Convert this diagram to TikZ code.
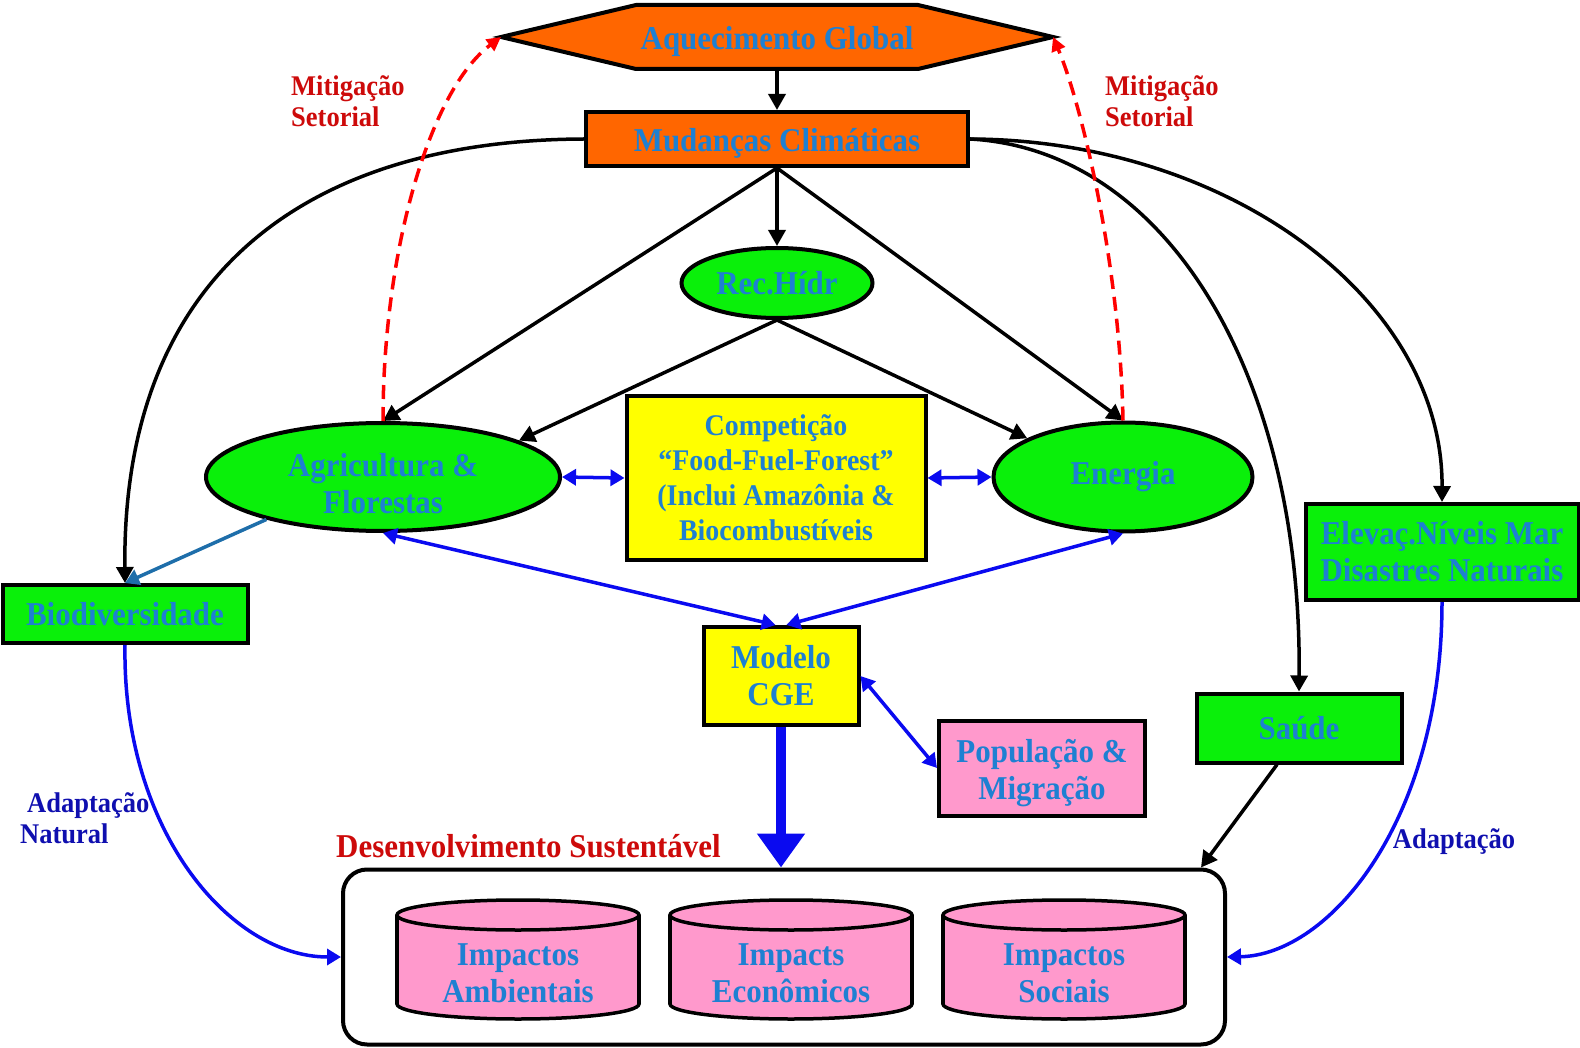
\documentclass[tikz,border=0pt]{standalone}
\usepackage{fontspec}
\setmainfont{Liberation Serif}
\newfontfamily\tallserif{Liberation Serif}[FakeStretch=0.93]
\usetikzlibrary{arrows.meta,shapes.geometric,calc}
\definecolor{txtblue}{RGB}{30,128,210}
\definecolor{orng}{RGB}{255,102,0}
\definecolor{grn}{RGB}{10,240,10}
\definecolor{yel}{RGB}{255,255,0}
\definecolor{pnk}{RGB}{255,153,204}
\definecolor{redlbl}{RGB}{205,10,10}
\definecolor{navylbl}{RGB}{15,15,175}
\definecolor{steel}{RGB}{30,110,170}
\definecolor{bluear}{RGB}{10,10,240}
\begin{document}
\begin{tikzpicture}[x=1pt,y=-1pt,
  lbl/.style={font=\tallserif\fontsize{33.3}{37}\selectfont\bfseries, text=txtblue, align=center},
  box/.style={lbl, draw=black, line width=4pt, inner sep=0pt},
  ell/.style={lbl, ellipse, draw=black, line width=4pt, fill=grn, inner sep=0pt},
  blk/.style={draw=black, line width=3.5pt, -{Triangle[width=17pt,length=16pt]}},
  blu/.style={draw=bluear, line width=3.5pt, {Triangle[width=16pt,length=14pt]}-{Triangle[width=16pt,length=14pt]}},
  bluone/.style={draw=bluear, line width=3.5pt, -{Triangle[width=16pt,length=14pt]}},
  mitig/.style={draw=red, line width=3.5pt, dash pattern=on 14pt off 8pt, -{Triangle[width=14pt,length=14pt]}},
  sidelbl/.style={font=\tallserif\fontsize{28.5}{31}\selectfont\bfseries, align=left, inner sep=0pt},
  cylfill/.style={fill=pnk},
  cylline/.style={draw=black, line width=3.5pt}
]
\useasboundingbox (0,0) rectangle (1580,1048);

% Hexagon
\draw[line width=4pt, fill=orng] (501,37) -- (636,5) -- (918,5) -- (1053,37) -- (918,69) -- (636,69) -- cycle;
\node[lbl] (aq) at (777,41) {Aquecimento Global};
\coordinate (aqB) at (777,69);
\coordinate (aqL) at (501,37);
\coordinate (aqR) at (1053,37);

% Nodes
\node[box, fill=orng, minimum width=382, minimum height=54] (mc) at (777,139) {};
\node[lbl] (mcT) at (777,143) {Mudanças Climáticas};
\node[ell, minimum width=191, minimum height=70] (rh) at (777,283) {Rec.Hídr};
\node[ell, minimum width=354, minimum height=108] (ag) at (383,477) {};
\node[lbl] (agT) at (383,484) {Agricultura \&\\Florestas};
\node[box, fill=yel, minimum width=299, minimum height=163, font=\tallserif\fontsize{30}{35}\selectfont\bfseries] (cp) at (776,478) {Competição\\“Food-Fuel-Forest”\\(Inclui Amazônia \&\\Biocombustíveis};
\node[ell, minimum width=259, minimum height=109] (en) at (1123,477) {Energia};
\node[box, fill=grn, minimum width=245, minimum height=58] (bio) at (125,614) {Biodiversidade};
\node[box, fill=grn, minimum width=273, minimum height=96] (el) at (1442,552) {Elevaç.Níveis Mar\\Disastres Naturais};
\node[box, fill=yel, minimum width=155, minimum height=98] (mo) at (781,676) {Modelo\\CGE};
\node[box, fill=pnk, minimum width=206, minimum height=95] (pop) at (1042,768) {};
\node[lbl] (popT) at (1042,773) {População \&\\Migração};
\node[box, fill=grn, minimum width=205, minimum height=69] (sa) at (1299,728) {Saúde};
\node[draw=black, line width=4pt, rounded corners=24pt, minimum width=882, minimum height=175, inner sep=0pt] (ds) at (784,957) {};

% Cylinders
\foreach \cx/\nm/\txt in {518/c1/{Impactos\\Ambientais}, 791/c2/{Impacts\\Econômicos}, 1064/c3/{Impactos\\Sociais}}{
  \filldraw[cylfill, cylline] (\cx,1004) ellipse [x radius=121, y radius=15];
  \fill[cylfill] (\cx-121,915) rectangle (\cx+121,1004);
  \draw[cylline] (\cx-121,915) -- (\cx-121,1004);
  \draw[cylline] (\cx+121,915) -- (\cx+121,1004);
  \filldraw[cylfill, cylline] (\cx,915) ellipse [x radius=121, y radius=15];
  \node[lbl] (\nm) at (\cx,973) {\txt};
}

% Labels
\node[sidelbl, text=redlbl, anchor=west] (mitL) at (291,101) {Mitigação\\Setorial};
\node[sidelbl, text=redlbl, anchor=west] (mitR) at (1105,101) {Mitigação\\Setorial};
\node[font=\tallserif\fontsize{33.3}{37}\selectfont\bfseries, text=redlbl, anchor=west, inner sep=0pt] (dsl) at (336,846) {Desenvolvimento Sustentável};
\node[sidelbl, text=navylbl, anchor=west] (adL) at (20,818) {\hspace{7pt}Adaptação\\Natural};
\node[sidelbl, text=navylbl] (adR) at (1454,842) {Adaptação};

% Black connectors
\draw[blk] (aqB) -- (mc.north);
\draw[blk] (mc.south) -- (rh.north);
\draw[blk] (mc.south) -- (ag.north);
\draw[blk] (mc.south) -- (en.north);
\draw[blk] (rh.south) -- (ag.15);
\draw[blk] (rh.south) -- (en.158);
\draw[blk] (mc.west) .. controls (300,140) and (122,280) .. (bio.north);
\draw[blk] (mc.east) .. controls (1230,140) and (1443,300) .. (el.north);
\draw[blk] (mc.east) .. controls (1170,150) and (1302,380) .. (sa.north);
\draw[blk] (sa.239) -- ($(ds.north east)+(-26,0)$);

% Red dashed mitigation
\draw[mitig] (ag.north) .. controls (383,250) and (430,90) .. (aqL);
\draw[mitig] (en.north) .. controls (1120,260) and (1080,100) .. (aqR);

% Blue connectors
\draw[blu] (ag.east) -- (cp.west);
\draw[blu] (cp.east) -- (en.west);
\draw[blu] (ag.south) -- (mo.96);
\draw[blu] (en.south) -- (mo.84);
\draw[blu] (mo.east) -- (pop.west);
\draw[draw=steel, line width=3.5pt, -{Triangle[width=16pt,length=14pt]}, steel] (ag.200) -- (bio.north);
\draw[draw=bluear, line width=10pt, -{Triangle[width=46pt,length=34pt]}, bluear] (mo.south) -- (mo.south |- ds.north);
\draw[bluone] (bio.south) .. controls (122,830) and (230,957) .. (ds.west);
\draw[bluone] (el.south) .. controls (1442,820) and (1330,955) .. (ds.east);
\end{tikzpicture}
\end{document}
